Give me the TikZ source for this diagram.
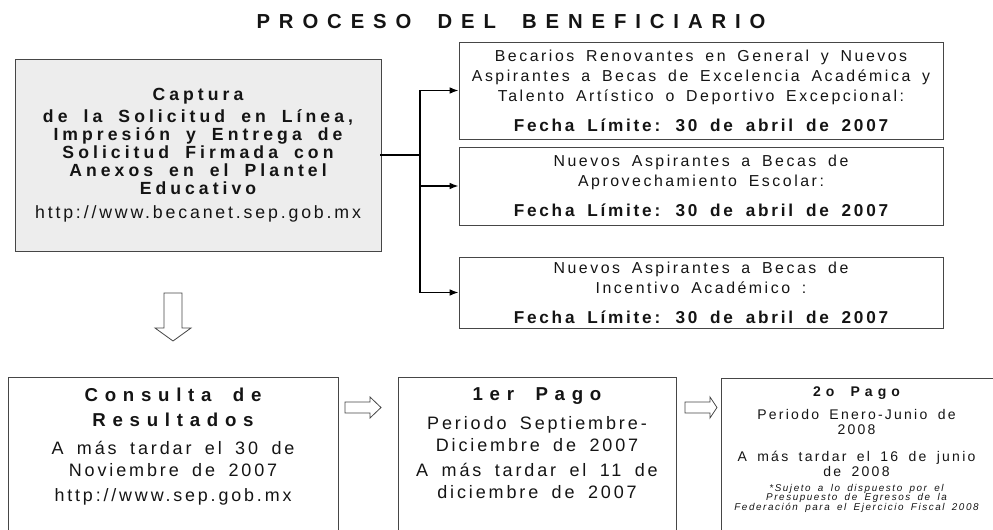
\documentclass[tikz,border=0pt]{standalone}
\usepackage{fontspec}
\setmainfont{Liberation Sans}
\newfontfamily\sptitle[LetterSpace=44,WordSpace=1.8]{Liberation Sans}
\newfontfamily\spwide[LetterSpace=36,WordSpace=1.8]{Liberation Sans}
\newfontfamily\spmid[LetterSpace=23,WordSpace=1.8]{Liberation Sans}
\newfontfamily\spnorm[LetterSpace=16,WordSpace=1.7]{Liberation Sans}
\usetikzlibrary{positioning,arrows.meta}

\definecolor{boxgray}{RGB}{70,70,70}
\definecolor{captfill}{RGB}{237,237,237}
\definecolor{inkcol}{RGB}{20,20,20}

% fonts of the boxes
\newcommand\titlefnt{\sptitle\bfseries\fontsize{15.2}{17}\selectfont}
\newcommand\captbf{\spmid\bfseries\upshape\fontsize{13.2}{13.5}\selectfont}
\newcommand\capturl{\spnorm\mdseries\upshape\fontsize{13.3}{13.5}\selectfont}
\newcommand\rtext{\spnorm\mdseries\upshape\fontsize{11.9}{15}\selectfont}
\newcommand\rdate{\spnorm\bfseries\upshape\fontsize{12.9}{15}\selectfont}
\newcommand\bhead{\spwide\bfseries\upshape\fontsize{14}{16.3}\selectfont}
\newcommand\btext{\spnorm\mdseries\upshape\fontsize{13.5}{16.3}\selectfont}
\newcommand\burl{\spnorm\mdseries\upshape\fontsize{13.4}{16.3}\selectfont}
\newcommand\chead{\spwide\bfseries\upshape\fontsize{10.5}{11.25}\selectfont}
\newcommand\ctext{\spnorm\mdseries\upshape\fontsize{10.5}{11.25}\selectfont}
\newcommand\cnote{\spnorm\mdseries\itshape\fontsize{7.4}{11.25}\selectfont}

\begin{document}
\begin{tikzpicture}[x=0.75pt,y=0.75pt,yscale=-1,xscale=1,
  box/.style={draw=boxgray, line width=0.6pt, inner sep=0pt, outer sep=0pt, text=inkcol},
  feed/.style={line width=1.4pt, -{Latex[length=7pt,width=5pt]}},
  trunk/.style={line width=1.4pt, line cap=rect},
  hollow/.style={draw=boxgray, fill=white, line width=0.6pt},
  lines/.style={align=center, inner sep=0pt, text=inkcol}]
\useasboundingbox (0,0) rectangle (993,529);
\clip (0,0) rectangle (993,529);

% Text Node
\node (title) at (511,22) [font=\titlefnt, text=inkcol] {PROCESO DEL BENEFICIARIO};

%Shape: Rectangle
\node (captura) [box, fill=captfill, minimum width=274.5pt, minimum height=144pt, align=center, font=\captbf] at (198,155)
  {\captbf Captura\\[3pt]
   \captbf de la Solicitud en Línea,\\
   \captbf Impresión y Entrega de\\
   \captbf Solicitud Firmada con\\
   \captbf Anexos en el Plantel\\
   \captbf Educativo\\[4.5pt]
   \capturl http://www.becanet.sep.gob.mx};

%Shape: Rectangle
\node (renov) [box, minimum width=363pt, minimum height=72.75pt, align=center, font=\rtext] at (701,90.5)
  {\rtext Becarios Renovantes en General y Nuevos\\
   \rtext Aspirantes a Becas de Excelencia Académica y\\
   \rtext Talento Artístico o Deportivo Excepcional:\\[7.5pt]
   \rdate Fecha Límite: 30 de abril de 2007};
%Shape: Rectangle
\node (aprov) [box, minimum width=363pt, minimum height=58.5pt, align=center, font=\rtext] at (701,186)
  {\rtext Nuevos Aspirantes a Becas de\\
   \rtext Aprovechamiento Escolar:\\[7.5pt]
   \rdate Fecha Límite: 30 de abril de 2007};
%Shape: Rectangle
\node (incent) [box, minimum width=363pt, minimum height=53.25pt, align=center, font=\rtext] at (701,292.5)
  {\rtext Nuevos Aspirantes a Becas de\\
   \rtext Incentivo Académico :\\[7.5pt]
   \rdate Fecha Límite: 30 de abril de 2007};

%Straight Lines
\coordinate (split) at (420,155);
\draw [trunk] (captura.east) -- (split);
\draw [trunk] (split |- renov.west) -- (split |- incent.west);
\foreach \b in {renov,aprov,incent}
  \draw [feed] (split |- \b.west) -- (\b.west);

%Shape: Down Arrow
\draw [hollow] (164,293) -- (182,293) -- (182,328) -- (191,328) -- (173,341) -- (155,328) -- (164,328) -- cycle;

%Shape: Rectangle
\node (consulta) [box, anchor=north west, minimum width=247.5pt, minimum height=135pt] at (8,377) {};
\node (pagoa) [box, anchor=north west, minimum width=208.5pt, minimum height=135pt] at (398,377) {};
\node (pagob) [box, anchor=north west, minimum width=209.25pt, minimum height=135pt] at (721,378) {};

%Shape: Right Arrow
\draw [hollow] (345,402) -- (370,402) -- (370,397) -- (381,407.5) -- (370,418) -- (370,413) -- (345,413) -- cycle;
\draw [hollow] (685,402) -- (710,402) -- (710,397) -- (717,407.5) -- (710,418) -- (710,413) -- (685,413) -- cycle;

% Text Node
\node (consultatxt) [lines, font=\btext, below=8pt of consulta.north]
  {\bhead Consulta de\\[2.5pt]
   \bhead Resultados\\[5pt]
   \btext A más tardar el 30 de\\
   \btext Noviembre de 2007\\[2.5pt]
   \burl http://www.sep.gob.mx};
% Text Node
\node (pagoatxt) [lines, font=\btext, below=8pt of pagoa.north]
  {\bhead 1er Pago\\[5.25pt]
   \btext Periodo Septiembre-\\
   \btext Diciembre de 2007\\[2.7pt]
   \btext A más tardar el 11 de\\
   \btext diciembre de 2007};
% Text Node
\node (pagobtxt) [lines, font=\ctext, below=6.5pt of pagob.north, xshift=-3pt]
  {\chead 2o Pago\\[6.2pt]
   \ctext Periodo Enero-Junio de\\
   \ctext 2008\\[8.8pt]
   \ctext A más tardar el 16 de junio\\
   \ctext de 2008\\
   \cnote *Sujeto a lo dispuesto por el\\[-4.3pt]
   \cnote Presupuesto de Egresos de la\\[-4.3pt]
   \cnote Federación para el Ejercicio Fiscal 2008};

\end{tikzpicture}
\end{document}
